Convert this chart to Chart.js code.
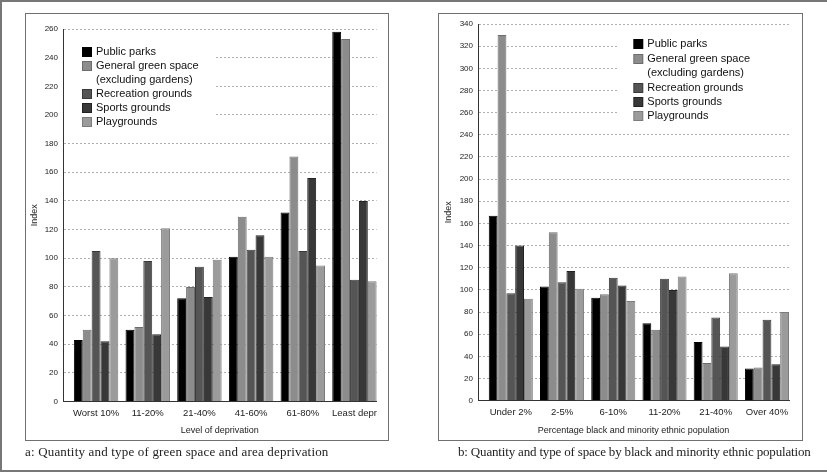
<!DOCTYPE html>
<html>
<head>
<meta charset="utf-8">
<script src="https://cdn.jsdelivr.net/npm/chart.js@4.4.1/dist/chart.umd.min.js"></script>
<style>
  html, body { margin: 0; padding: 0; background: #fff; }
  #page { position: relative; width: 827px; height: 472px; overflow: hidden; }
  .frame { position: absolute; left: 0; top: 0; width: 827px; height: 472px; box-sizing: border-box;
           border: 2px solid #777; border-right: none; }
  .box { position: absolute; box-sizing: border-box; border: 1px solid #707070; pointer-events: none; }
  .holder { position: absolute; }
  .cap { position: absolute; font-family: "Liberation Serif", "DejaVu Serif", serif; font-size: 13px;
         color: #222; white-space: nowrap; line-height: 16px; }
</style>
</head>
<body>
<div id="page">
  <div class="frame"></div>
  <div class="holder" style="left:25px;top:13px;"><canvas id="chartA" width="363" height="427"></canvas></div>
  <div class="holder" style="left:438px;top:13px;"><canvas id="chartB" width="364" height="427"></canvas></div>
  <div class="box" style="left:25px;top:13px;width:364px;height:428px;"></div>
  <div class="box" style="left:438px;top:13px;width:365px;height:428px;"></div>
  <div class="cap" style="left:25px;top:444px;letter-spacing:0.18px;">a: Quantity and type of green space and area deprivation</div>
  <div class="cap" style="left:458px;top:444px;letter-spacing:-0.17px;">b: Quantity and type of space by black and minority ethnic population</div>
</div>
<script>
// categories
const categoriesA = ['Worst 10%', '11-20%', '21-40%', '41-60%', '61-80%', 'Least depr'];
const categoriesB = ['Under 2%', '2-5%', '6-10%', '11-20%', '21-40%', 'Over 40%'];
const seriesNames = ['Public parks', 'General green space\n(excluding gardens)', 'Recreation grounds', 'Sports grounds', 'Playgrounds'];

// a: green space and area deprivation
const parksA  = [43, 50, 72, 101, 132, 258];
const greenA  = [50, 52, 80, 129, 171, 253];
const recA    = [105, 98, 94, 106, 105, 85];
const sportsA = [42, 47, 73, 116, 156, 140];
const playA   = [100, 121, 99, 101, 95, 84];

// b: space by black and minority ethnic population
const parksB  = [167, 103, 93, 70, 53, 29];
const greenB  = [330, 152, 96, 64, 34, 30];
const recB    = [97, 107, 111, 110, 75, 73];
const sportsB = [140, 117, 104, 100, 49, 33];
const playB   = [92, 101, 90, 112, 115, 80];

const yMaxA = 260;
const yMaxB = 340;
const yStep = 20;

const fills = ['#000000', '#8c8c8c', '#555555', '#383838', '#9b9b9b'];
const edges = ['#000000', '#6c6c6c', '#3a3a3a', '#222222', '#7c7c7c'];
const FONT = '"Liberation Sans", Arial, sans-serif';

// legend drawn inside the plot, on a white patch that hides the grid lines
const boxLegend = {
    id: 'boxLegend',
    beforeDatasetsDraw(chart, args, opts) {
        const ctx = chart.ctx;
        const a = chart.chartArea;
        ctx.save();
        ctx.fillStyle = '#fff';
        ctx.fillRect(a.left + opts.bg[0], a.top + opts.bg[1], opts.bg[2], opts.bg[3]);
        ctx.font = '11px ' + FONT;
        ctx.textBaseline = 'middle';
        let y = a.top + opts.y;
        const x = a.left + opts.x;
        chart.data.datasets.forEach(ds => {
            ctx.fillStyle = ds.borderColor;
            ctx.fillRect(x, Math.round(y - 5), 10, 10);
            ctx.fillStyle = ds.backgroundColor;
            ctx.fillRect(x + 1, Math.round(y - 4), 8, 8);
            ctx.fillStyle = '#111';
            ds.label.split('\n').forEach(line => {
                ctx.fillText(line, x + 14, y);
                y += opts.lineH;
            });
        });
        ctx.restore();
    }
};

function makeChart(id, categories, series, yMax, geo) {
    const ctx = document.getElementById(id).getContext('2d');
    return new Chart(ctx, {
        type: 'bar',
        data: {
            labels: categories.map((_, i) => i),
            datasets: series.map((vals, k) => ({
                label: seriesNames[k],
                data: vals,
                backgroundColor: fills[k],
                borderColor: edges[k],
                borderWidth: 1,
                categoryPercentage: 0.86,
                barPercentage: 1
            }))
        },
        options: {
            responsive: false,
            animation: false,
            layout: { padding: { top: geo.top, right: geo.right, left: 0, bottom: 0 } },
            plugins: {
                legend: { display: false },
                tooltip: { enabled: false },
                boxLegend: geo.legend
            },
            scales: {
                x: {
                    type: 'linear',
                    offset: false,
                    min: -0.64,
                    max: 5.43,
                    afterBuildTicks: s => { s.ticks = categories.map((_, i) => ({ value: i })); },
                    afterFit: s => { s.height = geo.xh; },
                    grid: { display: false, drawTicks: false, offset: false },
                    border: { display: true, color: '#333', width: 1 },
                    ticks: {
                        autoSkip: false, maxRotation: 0, padding: 6, color: '#222',
                        font: { family: FONT, size: 9.5 },
                        callback: v => categories[v]
                    },
                    title: {
                        display: true, text: geo.xTitle, color: '#222',
                        font: { family: FONT, size: 9 },
                        padding: { top: 0, bottom: 3.6 }
                    }
                },
                y: {
                    min: 0,
                    max: yMax,
                    afterFit: s => { s.width = geo.yw; },
                    grid: { color: '#b0b0b0', lineWidth: 1, drawTicks: false },
                    border: { display: true, color: '#333', width: 1, dash: [2, 2] },
                    ticks: {
                        stepSize: yStep, padding: 5, color: '#222',
                        font: { family: FONT, size: 8 }
                    },
                    title: {
                        display: true, text: 'Index', color: '#222',
                        font: { family: FONT, size: 9 },
                        padding: { top: geo.yTitlePad, bottom: 0 }
                    }
                }
            }
        },
        plugins: [boxLegend]
    });
}

makeChart('chartA', categoriesA, [parksA, greenA, recA, sportsA, playA], yMaxA, {
    top: 16, right: 11.3, yw: 38, xh: 38.5, yTitlePad: 4.6,
    xTitle: 'Level of deprivation',
    legend: { x: 19, y: 22.7, lineH: 14.1, bg: [1, 9, 152, 97] }
});

makeChart('chartB', categoriesB, [parksB, greenB, recB, sportsB, playB], yMaxB, {
    top: 11, right: 13, yw: 40, xh: 39.3, yTitlePad: 4.9,
    xTitle: 'Percentage black and minority ethnic population',
    legend: { x: 155.3, y: 20.3, lineH: 14.4, bg: [140, 9, 171, 95] }
});
</script>
</body>
</html>
